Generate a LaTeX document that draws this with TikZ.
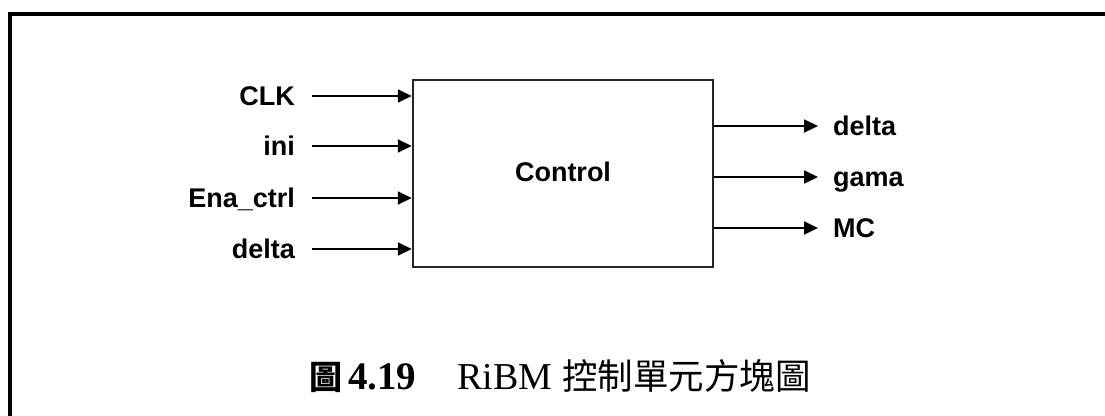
\documentclass[tikz,border=0pt]{standalone}
\usepackage{fontspec}
\setmainfont{Liberation Serif}
\newfontfamily\lab{Liberation Sans}
\newfontfamily\cjk{Noto Sans CJK TC}
\usetikzlibrary{arrows.meta}
\begin{document}
\begin{tikzpicture}[x=1pt,y=-1pt,
 lbl/.style={font=\lab\bfseries\fontsize{27}{30}\selectfont, inner sep=0pt, text height=19pt, text depth=0pt},
 sig/.style={line width=1.8pt, -{Triangle[length=14pt,width=13pt]}},
 captxt/.style={inner sep=0pt, anchor=base west},
]
\useasboundingbox (0,0) rectangle (1105,415);
\begin{scope}
\clip (0,0) rectangle (1105,415);
\draw[line width=4.5pt] (10,14) rectangle (1140,450);
\end{scope}
\node[draw=black!85, line width=2.5pt, minimum width=300pt, minimum height=187pt, inner sep=0pt,
      font=\lab\bfseries\fontsize{27}{30}\selectfont] (ctrl) at (563,173.5) {\raisebox{3pt}{Control}};
% inputs
\node[lbl, anchor=east] (iclk) at (295,96) {CLK};
\node[lbl, anchor=east] (iini) at (295,146) {ini};
\node[lbl, anchor=east] (iena) at (295,198) {Ena\_ctrl};
\node[lbl, anchor=east] (idel) at (295,249) {delta};
\foreach \n in {iclk,iini,iena,idel}
  \draw[sig] ([xshift=17pt]\n.east) -- (ctrl.west |- \n.east);
% outputs
\node[lbl, anchor=west] (odel) at (833,126) {delta};
\node[lbl, anchor=west] (ogam) at (833,177) {gama};
\node[lbl, anchor=west] (omc) at (833,228) {MC};
\foreach \n in {odel,ogam,omc}
  \draw[sig] (ctrl.east |- \n.west) -- ([xshift=-15pt]\n.west);
% caption
\node[captxt] (c1) at (309,389) {\cjk\bfseries\fontsize{33}{40}\selectfont 圖};
\node[captxt] (c2) at (348,389) {\bfseries\fontsize{39}{40}\selectfont 4.19};
\node[captxt] (c3) at (457,389) {\fontsize{38}{40}\selectfont RiBM};
\node[captxt] (c4) at (562,389) {\cjk\fontsize{35.5}{40}\selectfont 控制單元方塊圖};
\end{tikzpicture}
\end{document}
